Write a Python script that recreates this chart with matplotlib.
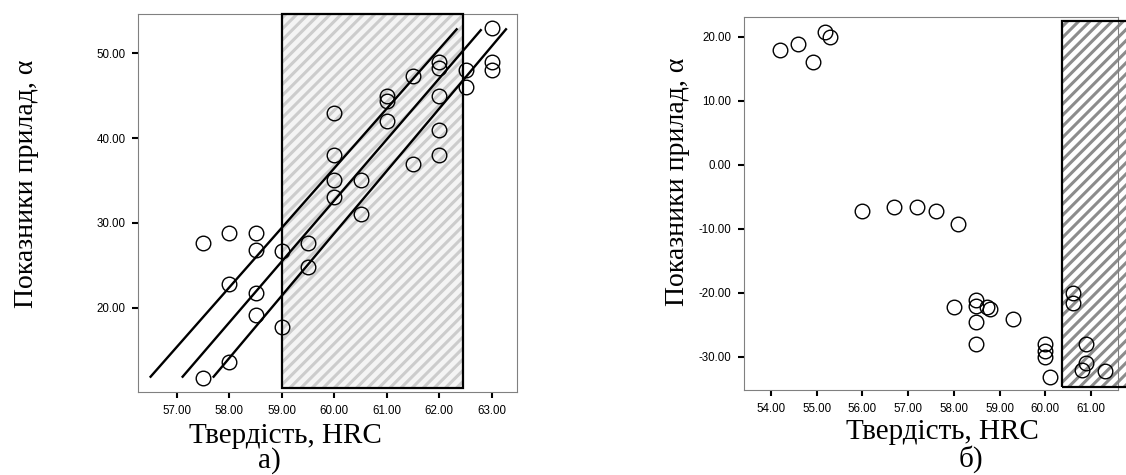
import matplotlib
matplotlib.use("Agg")
import matplotlib.pyplot as plt
from matplotlib.patches import Rectangle
from matplotlib.ticker import FormatStrFormatter

plt.rcParams['hatch.linewidth'] = 2.2

# panel a) points: hardness HRC vs instrument reading
a_x = [57.5, 57.5, 58.0, 58.0, 58.0, 58.5, 58.5, 58.5, 58.5, 59.0, 59.0, 59.5, 59.5,
       60.0, 60.0, 60.0, 60.0, 60.5, 60.5, 61.0, 61.0, 61.0, 61.5, 61.5,
       62.0, 62.0, 62.0, 62.0, 62.0, 62.5, 62.5, 63.0, 63.0, 63.0]
a_y = [27.6, 11.8, 28.8, 22.8, 13.6, 28.8, 26.8, 21.8, 19.2, 26.7, 17.8, 27.6, 24.8,
       43.0, 38.0, 35.0, 33.0, 35.0, 31.0, 45.0, 44.3, 42.0, 47.3, 37.0,
       49.0, 48.2, 45.0, 41.0, 38.0, 48.0, 46.0, 53.0, 49.0, 48.0]

# three fitted lines (start / end)
a_line_x = [[56.50, 62.33], [57.11, 62.79], [57.70, 63.27]]
a_line_y = [[11.9, 52.8], [11.9, 52.7], [11.9, 52.8]]

a_band_x = (59.0, 62.45)
a_band_y = (10.6, 54.6)

# panel б) points
b_x = [54.2, 54.6, 54.92, 55.18, 55.3, 55.98, 56.7, 57.2, 57.6, 58.1,
       58.0, 58.48, 58.48, 58.72, 58.8, 58.48, 58.48, 59.3,
       60.0, 60.0, 60.0, 60.1, 60.6, 60.6, 60.9, 60.9, 60.8, 61.3]
b_y = [18.0, 18.9, 16.0, 20.8, 20.0, -7.2, -6.6, -6.6, -7.2, -9.2,
       -22.2, -21.1, -22.0, -22.2, -22.5, -24.6, -28.0, -24.1,
       -28.0, -29.0, -30.0, -33.1, -20.0, -21.6, -28.0, -31.0, -32.0, -32.2]

b_band_x = (60.37, 62.0)
b_band_y = (-34.7, 22.5)

W, H = 1126, 475
fig = plt.figure(figsize=(W / 100, H / 100), dpi=100)


def px_axes(l, t, r, b):
    return fig.add_axes([l / W, 1 - b / H, (r - l) / W, (b - t) / H])


def style(ax, ticks):
    for s in ax.spines.values():
        s.set_color('#808080')
        s.set_linewidth(0.8)
    ax.tick_params(direction='out', length=4, width=1.5, color='black',
                   labelsize=8.3, pad=5)
    ax.set_yticks(ticks)
    ax.xaxis.set_major_formatter(FormatStrFormatter('%.2f'))
    ax.yaxis.set_major_formatter(FormatStrFormatter('%.2f'))
    for lab in ax.get_xticklabels() + ax.get_yticklabels():
        lab.set_fontfamily('Liberation Sans')


def band(ax, bx, by, hcol, face):
    ax.add_patch(Rectangle((bx[0], by[0]), bx[1] - bx[0], by[1] - by[0],
                           facecolor=face, edgecolor=hcol, hatch='///',
                           linewidth=0, zorder=1, clip_on=False))
    ax.add_patch(Rectangle((bx[0], by[0]), bx[1] - bx[0], by[1] - by[0],
                           facecolor='none', edgecolor='black',
                           linewidth=1.6, zorder=3, clip_on=False))


# ---- panel a)
ax1 = px_axes(138, 14, 517, 392)
ax1.set_xlim(56.26, 63.48)
ax1.set_ylim(10.1, 54.6)
band(ax1, a_band_x, a_band_y, '#cccccc', '#f4f4f4')
for lx, ly in zip(a_line_x, a_line_y):
    ax1.plot(lx, ly, color='black', linewidth=1.7, zorder=4)
ax1.plot(a_x, a_y, 'o', markersize=10.5, markerfacecolor='none',
         markeredgecolor='black', markeredgewidth=1.0, zorder=5)
ax1.set_xticks([57, 58, 59, 60, 61, 62, 63])
style(ax1, [20, 30, 40, 50])

# ---- panel б)
ax2 = px_axes(744, 17, 1118, 390)
ax2.set_xlim(53.41, 61.59)
ax2.set_ylim(-35.16, 23.1)
band(ax2, b_band_x, b_band_y, '#8c8c8c', 'white')
ax2.plot(b_x, b_y, 'o', markersize=10.5, markerfacecolor='none',
         markeredgecolor='black', markeredgewidth=1.0, zorder=5)
ax2.set_xticks([54, 55, 56, 57, 58, 59, 60, 61])
style(ax2, [-30, -20, -10, 0, 10, 20])

serif = 'Liberation Serif'
fig.text(27 / W, 1 - 184 / H, 'Показники прилад, α', rotation=90,
         ha='center', va='center', fontsize=20, family=serif)
fig.text(678 / W, 1 - 182 / H, 'Показники прилад, α', rotation=90,
         ha='center', va='center', fontsize=20, family=serif)
fig.text(285 / W, 1 - 443 / H, 'Твердість, HRC', ha='center', va='baseline',
         fontsize=21, family=serif)
fig.text(942 / W, 1 - 439 / H, 'Твердість, HRC', ha='center', va='baseline',
         fontsize=21, family=serif)
fig.text(269 / W, 1 - 468 / H, 'а)', ha='center', va='baseline',
         fontsize=21, family=serif)
fig.text(971 / W, 1 - 467 / H, 'б)', ha='center', va='baseline',
         fontsize=21, family=serif)

fig.savefig('out.png', dpi=100)
